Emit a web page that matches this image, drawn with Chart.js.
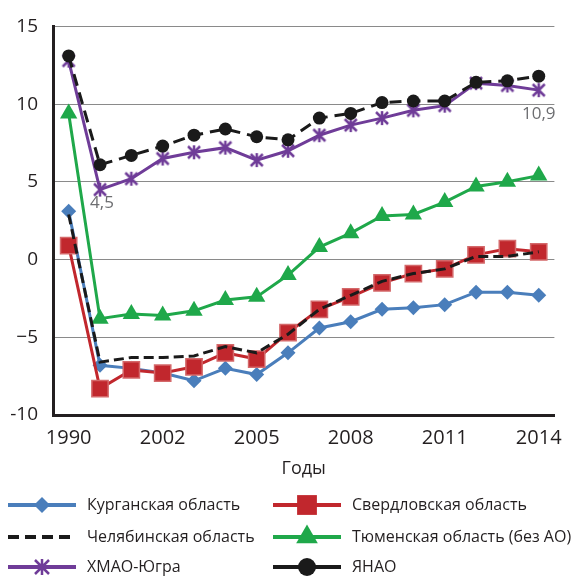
<!DOCTYPE html>
<html>
<head>
<meta charset="utf-8">
<script src="https://cdn.jsdelivr.net/npm/chart.js@4.4.1/dist/chart.umd.min.js"></script>
<style>
  html, body { margin: 0; padding: 0; background: #fff; }
  #chart { display: block; }
</style>
</head>
<body>
<canvas id="chart" width="573" height="576"></canvas>
<script>
const years = ['1990', '2000', '2001', '2002', '2003', '2004', '2005', '2006', '2007', '2008', '2009', '2010', '2011', '2012', '2013', '2014'];
const shownYears = ['1990', '2002', '2005', '2008', '2011', '2014'];
const yTickLabels = { '15': '15', '10': '10', '5': '5', '0': '0', '-5': '\u22125', '-10': '-10' };

const kurgan = [3.1, -6.8, -7.0, -7.3, -7.8, -7.0, -7.4, -6.0, -4.4, -4.0, -3.2, -3.1, -2.9, -2.1, -2.1, -2.3];
const sverdlovsk = [0.9, -8.3, -7.1, -7.3, -6.9, -6.0, -6.4, -4.7, -3.2, -2.4, -1.5, -0.9, -0.6, 0.3, 0.7, 0.5];
const chelyabinsk = [2.9, -6.6, -6.3, -6.3, -6.2, -5.6, -6.0, -4.8, -3.2, -2.3, -1.4, -0.9, -0.6, 0.2, 0.2, 0.5];
const tyumen = [9.4, -3.8, -3.5, -3.6, -3.3, -2.6, -2.4, -1.0, 0.8, 1.7, 2.8, 2.9, 3.7, 4.7, 5.0, 5.4];
const hmao = [12.8, 4.5, 5.2, 6.5, 6.9, 7.2, 6.4, 7.0, 8.0, 8.65, 9.1, 9.6, 9.9, 11.35, 11.2, 10.9];
const yanao = [13.1, 6.1, 6.7, 7.3, 8.0, 8.4, 7.9, 7.7, 9.1, 9.4, 10.1, 10.2, 10.2, 11.4, 11.5, 11.8];

// value labels on the ХМАО line
const noteIndex = [1, 15];
const noteText = ['4,5', '10,9'];

const FONT = "'Open Sans', 'Noto Sans', sans-serif";
const BLUE = '#4a7ebb';
const RED = '#c1272d';
const GREEN = '#1fa84a';
const PURPLE = '#6f3c98';
const BLACK = '#1a1a1a';

// star-like marker for ХМАО (X with a vertical stroke)
function makeStar(color, size) {
    const c = document.createElement('canvas');
    c.width = size; c.height = size;
    const g = c.getContext('2d');
    const m = 2, e = size - 2;
    g.strokeStyle = color;
    g.lineWidth = 2.5;
    g.beginPath();
    g.moveTo(m, m); g.lineTo(e, e);
    g.moveTo(e, m); g.lineTo(m, e);
    g.moveTo(size / 2, 1); g.lineTo(size / 2, size - 1);
    g.stroke();
    return c;
}
const starImg = makeStar(PURPLE, 16);
const starLegend = makeStar(PURPLE, 18);

const datasets = [
    {
        label: 'Челябинская область', data: chelyabinsk, order: 0,
        borderColor: BLACK, borderWidth: 3, borderDash: [10, 5],
        pointRadius: 0
    },
    {
        label: 'ЯНАО', data: yanao, order: 1,
        borderColor: BLACK, borderWidth: 3, borderDash: [12, 7],
        pointStyle: 'circle', pointRadius: 6.5,
        pointBackgroundColor: BLACK, pointBorderColor: BLACK, pointBorderWidth: 0
    },
    {
        label: 'Свердловская область', data: sverdlovsk, order: 2,
        borderColor: RED, borderWidth: 3,
        pointStyle: 'rect', pointRadius: 11.5,
        pointBackgroundColor: RED, pointBorderColor: '#d4686a', pointBorderWidth: 1.5
    },
    {
        label: 'ХМАО-Югра', data: hmao, order: 3,
        borderColor: PURPLE, borderWidth: 3,
        pointStyle: starImg, pointRadius: 8
    },
    {
        label: 'Курганская область', data: kurgan, order: 4,
        borderColor: BLUE, borderWidth: 3,
        pointStyle: 'rectRot', pointRadius: 7.5,
        pointBackgroundColor: BLUE, pointBorderColor: BLUE, pointBorderWidth: 0
    },
    {
        label: 'Тюменская область (без АО)', data: tyumen, order: 5,
        borderColor: GREEN, borderWidth: 3,
        pointStyle: 'triangle', pointRadius: 10,
        pointBackgroundColor: GREEN, pointBorderColor: GREEN, pointBorderWidth: 0
    }
];

// legend: two columns, three rows; marker sizes a bit bigger than in the plot
const legendOrder = ['Курганская область', 'Свердловская область', 'Челябинская область',
    'Тюменская область (без АО)', 'ХМАО-Югра', 'ЯНАО'];
const legendRadius = {
    'Курганская область': 8, 'Свердловская область': 14, 'Тюменская область (без АО)': 12.5,
    'ХМАО-Югра': 9, 'ЯНАО': 9
};

const notesPlugin = {
    id: 'notes',
    afterDatasetsDraw(chart) {
        const ctx = chart.ctx;
        const x = chart.scales.x, y = chart.scales.y;
        ctx.save();
        ctx.fillStyle = '#6d6e71';
        ctx.font = '17px ' + FONT;
        ctx.textBaseline = 'middle';
        noteIndex.forEach((idx, i) => {
            const px = x.getPixelForValue(idx);
            const py = y.getPixelForValue(hmao[idx]);
            if (i === 0) {
                ctx.textAlign = 'left';
                ctx.fillText(noteText[i], px - 10, py + 14);
            } else {
                ctx.textAlign = 'center';
                ctx.fillText(noteText[i], px, py + 24);
            }
        });
        ctx.restore();
    }
};

const legendPlugin = {
    id: 'gridLegend',
    afterDraw(chart) {
        const ctx = chart.ctx;
        const colX = [8, 273];
        const rowY = [505, 537, 567];
        ctx.save();
        legendOrder.forEach((name, i) => {
            const ds = chart.data.datasets.find(d => d.label === name);
            const x0 = colX[i % 2];
            const y0 = rowY[Math.floor(i / 2)];
            const x1 = x0 + 68;
            ctx.strokeStyle = ds.borderColor;
            ctx.lineWidth = 4;
            ctx.setLineDash(ds.pointRadius === 0 ? [11, 6] : []);
            ctx.beginPath();
            ctx.moveTo(x0, y0);
            ctx.lineTo(x1, y0);
            ctx.stroke();
            ctx.setLineDash([]);
            if (ds.pointRadius) {
                ctx.fillStyle = ds.pointBackgroundColor || ds.borderColor;
                ctx.strokeStyle = ds.pointBackgroundColor || ds.borderColor;
                Chart.helpers.drawPoint(ctx, {
                    pointStyle: ds.pointStyle === starImg ? starLegend : ds.pointStyle,
                    rotation: 0, radius: legendRadius[name], borderWidth: 0
                }, (x0 + x1) / 2, y0);
            }
            ctx.fillStyle = '#231f20';
            ctx.font = '16px ' + FONT;
            ctx.textAlign = 'left';
            ctx.textBaseline = 'middle';
            ctx.fillText(name, x1 + 11, y0);
        });
        ctx.restore();
    }
};

new Chart(document.getElementById('chart'), {
    type: 'line',
    data: { labels: years, datasets: datasets },
    plugins: [notesPlugin, legendPlugin],
    options: {
        responsive: false,
        animation: false,
        layout: { padding: { top: 21, left: 0, right: 10, bottom: 92 } },
        plugins: {
            legend: { display: false },
            tooltip: { enabled: false }
        },
        elements: { line: { tension: 0, fill: false } },
        scales: {
            x: {
                offset: true,
                grid: { display: false, drawTicks: false },
                border: { display: true, color: '#231f20', width: 3 },
                ticks: {
                    autoSkip: false, maxRotation: 0, padding: 11,
                    color: '#231f20', font: { family: FONT, size: 20 },
                    callback: function (val) {
                        const lab = this.getLabelForValue(val);
                        return shownYears.includes(lab) ? lab : '';
                    }
                },
                title: {
                    display: true, text: 'Годы', color: '#231f20',
                    font: { family: FONT, size: 18 }, padding: { top: 2, bottom: 4 }
                },
                afterFit(scale) { scale.height = 69; }
            },
            y: {
                min: -10, max: 15,
                grid: { color: '#8a8a8a', lineWidth: 1, drawTicks: false },
                border: { display: true, color: '#231f20', width: 3 },
                ticks: {
                    stepSize: 5, padding: 15,
                    color: '#231f20', font: { family: FONT, size: 19 },
                    callback: v => yTickLabels[String(v)]
                },
                afterFit(scale) { scale.width = 53; }
            }
        }
    }
});
</script>
</body>
</html>
